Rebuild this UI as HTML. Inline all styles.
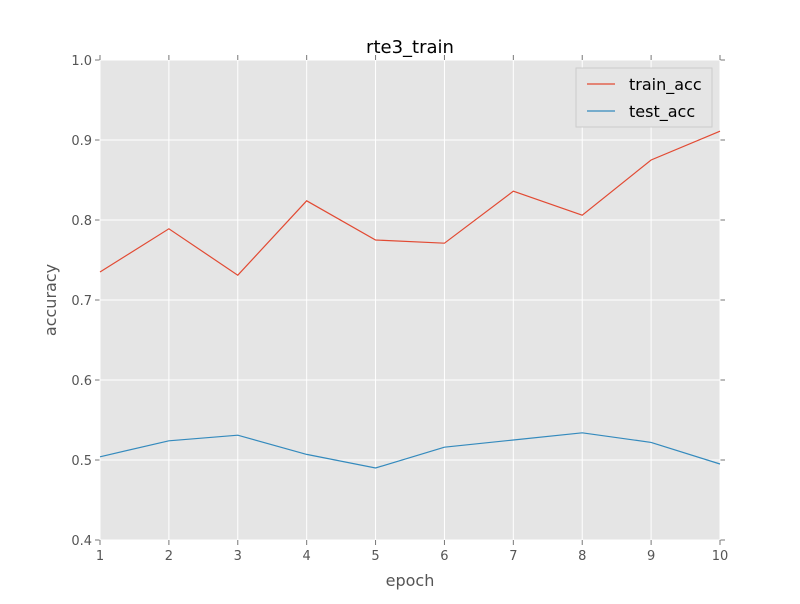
<!DOCTYPE html>
<html><head><meta charset="utf-8"><style>
body{margin:0;background:#fff;font-family:"DejaVu Sans","Liberation Sans",sans-serif;}
</style></head><body>
<svg id="chart" width="800" height="600" xmlns="http://www.w3.org/2000/svg" font-family="DejaVu Sans, Liberation Sans, sans-serif"></svg>
<script>
const epochs=[1,2,3,4,5,6,7,8,9,10];
const trainAcc=[0.735,0.789,0.731,0.824,0.775,0.771,0.836,0.806,0.875,0.911];
const testAcc=[0.504,0.524,0.531,0.507,0.490,0.516,0.525,0.534,0.522,0.495];
const yTicks=[0.4,0.5,0.6,0.7,0.8,0.9,1.0];
const xTicks=[1,2,3,4,5,6,7,8,9,10];
const svg=document.getElementById('chart');
const NS='http://www.w3.org/2000/svg';
const L=100,R=720,T=60,B=540;
const xs=v=>L+(v-1)/9*(R-L);
const ys=v=>B-(v-0.4)/0.6*(B-T);
function mk(tag,attrs,parent){const e=document.createElementNS(NS,tag);for(const k in attrs)e.setAttribute(k,attrs[k]);(parent||svg).appendChild(e);return e;}
const bg=mk('rect',{x:L,y:T,width:R-L,height:B-T,fill:'#e5e5e5'});


yTicks.forEach(t=>{
  const g=mk('line',{x1:L,x2:R,y1:ys(t),y2:ys(t),stroke:'#fff','stroke-width':1});
  
  
  mk('line',{x1:L-5,x2:L,y1:ys(t),y2:ys(t),stroke:'#777'});
  mk('line',{x1:R,x2:R+5,y1:ys(t),y2:ys(t),stroke:'#777'});
  const tx=mk('text',{x:L-8,y:ys(t)+5,'text-anchor':'end','font-size':13,fill:'#555'});
  tx.textContent=t.toFixed(1);
  
  
});
xTicks.forEach(t=>{
  const g=mk('line',{x1:xs(t),x2:xs(t),y1:T,y2:B,stroke:'#fff','stroke-width':1});
  
  
  mk('line',{x1:xs(t),x2:xs(t),y1:B,y2:B+5,stroke:'#777'});
  mk('line',{x1:xs(t),x2:xs(t),y1:T-5,y2:T,stroke:'#777'});
  const tx=mk('text',{x:xs(t),y:B+20,'text-anchor':'middle','font-size':13,fill:'#555'});
  tx.textContent=t;
  
  
});
function line(vals,color,name){
  const p=mk('polyline',{points:vals.map((v,i)=>xs(epochs[i])+','+ys(v)).join(' '),fill:'none',stroke:color,'stroke-width':1.2});
  
  
}
line(trainAcc,'#e24a33','train-acc-line');
line(testAcc,'#348abd','test-acc-line');
const t=mk('text',{x:410,y:53,'text-anchor':'middle','font-size':18,fill:'#000'});
t.textContent='rte3_train';


const xl=mk('text',{x:410,y:586,'text-anchor':'middle','font-size':16,fill:'#555'});
xl.textContent='epoch';


const yl=mk('text',{x:56,y:300,'text-anchor':'middle','font-size':16,fill:'#555',transform:'rotate(-90 56 300)'});
yl.textContent='accuracy';


const lg=mk('g',{});


mk('rect',{x:576,y:68,width:136,height:59,fill:'#e5e5e5',stroke:'#ccc'},lg);
[['train_acc','#e24a33',84],['test_acc','#348abd',111]].forEach(([n,c,y])=>{
  mk('line',{x1:587,x2:615,y1:y,y2:y,stroke:c,'stroke-width':1.2},lg);
  const e=mk('text',{x:629,y:y+6,'font-size':16,fill:'#000'},lg);
  e.textContent=n;
  
  
});
</script>
</body></html>
